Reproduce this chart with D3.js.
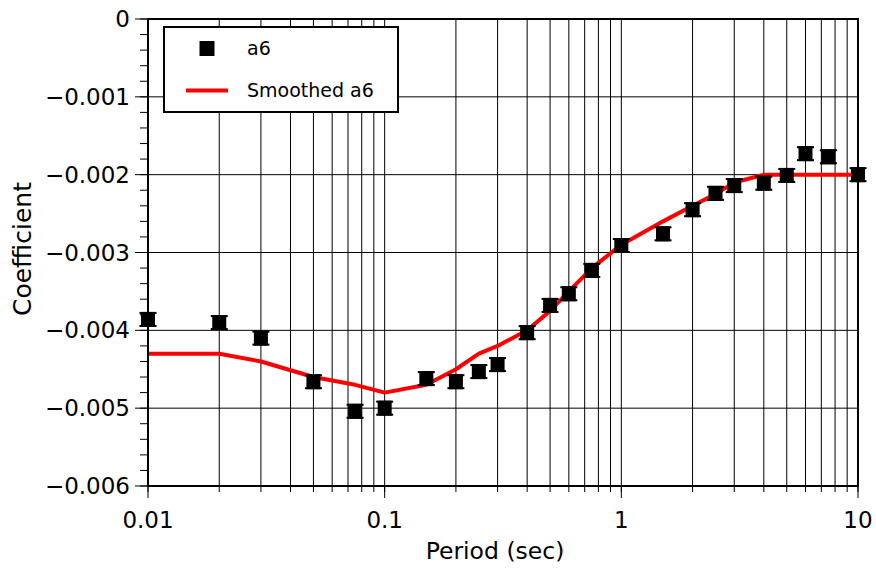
<!DOCTYPE html>
<html>
<head>
<meta charset="utf-8">
<script src="https://cdn.jsdelivr.net/npm/d3@7"></script>
<style>
  html, body { margin: 0; padding: 0; background: #fff; }
  svg { display: block; }
  text { font-family: "DejaVu Sans", sans-serif; fill: #000; }
</style>
</head>
<body>
<svg id="chart" width="876" height="571"></svg>
<script>
// Spectral periods (sec)
const periods = [0.01, 0.02, 0.03, 0.05, 0.075, 0.1, 0.15, 0.2, 0.25, 0.3, 0.4, 0.5,
                 0.6, 0.75, 1.0, 1.5, 2.0, 2.5, 3.0, 4.0, 5.0, 6.0, 7.5, 10.0];
// Regression coefficient a6 at each period
const a6 = [-0.00386, -0.00390, -0.00410, -0.00466, -0.00504, -0.00500, -0.00462, -0.00466,
            -0.00453, -0.00444, -0.00403, -0.00368, -0.00353, -0.00323, -0.00291, -0.00276,
            -0.00245, -0.00224, -0.00214, -0.00211, -0.00201, -0.00173, -0.00177, -0.00200];
// Smoothed a6
const a6Smoothed = [-0.0043, -0.0043, -0.0044, -0.0046, -0.0047, -0.0048, -0.0047, -0.0045,
                    -0.0043, -0.0042, -0.0040, -0.00375, -0.0035, -0.0032, -0.0029, -0.0026,
                    -0.0024, -0.00225, -0.0021, -0.0020, -0.0020, -0.0020, -0.0020, -0.0020];
const xTickValues = [0.01, 0.1, 1, 10];
const xTickLabels = ["0.01", "0.1", "1", "10"];
const yTickValues = [0, -0.001, -0.002, -0.003, -0.004, -0.005, -0.006];
const yTickLabels = ["0", "\u22120.001", "\u22120.002", "\u22120.003", "\u22120.004", "\u22120.005", "\u22120.006"];
const legendLabels = ["a6", "Smoothed a6"];
const xTitle = "Period (sec)";
const yTitle = "Coefficient";

const svg = d3.select("#chart");
const plotL = 148, plotR = 858, plotT = 19, plotB = 486;

const x = d3.scaleLog().domain([0.01, 10]).range([plotL, plotR]);
const y = d3.scaleLinear().domain([-0.006, 0]).range([plotB, plotT]);

// grid positions for the log axis: 1..9 x each decade
const logGrid = [];
for (let d = 0.01; d < 10; d *= 10) {
  for (let k = 1; k <= 9; k++) logGrid.push(+(k * d).toPrecision(3));
}
logGrid.push(10);
const yMinor = d3.range(0, 31).map(i => -i * 0.0002);

// grid
const grid = svg.append("g");
grid.selectAll("line.v").data(logGrid).join("line")
  .attr("x1", d => x(d)).attr("x2", d => x(d))
  .attr("y1", plotT).attr("y2", plotB)
  .attr("stroke", "#000").attr("stroke-width", 1);
grid.selectAll("line.h").data(yTickValues).join("line")
  .attr("x1", plotL).attr("x2", plotR)
  .attr("y1", d => y(d)).attr("y2", d => y(d))
  .attr("stroke", "#000").attr("stroke-width", 1);

// smoothed curve
const line = d3.line().x((d, i) => x(periods[i])).y(d => y(d));
svg.append("path").datum(a6Smoothed)
  .attr("d", line).attr("fill", "none")
  .attr("stroke", "#ff0000").attr("stroke-width", 4)
  .attr("stroke-linejoin", "round");

// square markers with short error caps
function marker(g, cx, cy) {
  g.append("rect").attr("x", cx - 7).attr("y", cy - 7.5)
    .attr("width", 14).attr("height", 15).attr("fill", "#000");
  g.append("rect").attr("x", cx - 8.5).attr("y", cy - 7.5)
    .attr("width", 17).attr("height", 2).attr("fill", "#000");
  g.append("rect").attr("x", cx - 8.5).attr("y", cy + 5.5)
    .attr("width", 17).attr("height", 2).attr("fill", "#000");
}
const pts = svg.append("g");
a6.forEach((v, i) => marker(pts, x(periods[i]), y(v)));

// frame
svg.append("rect").attr("x", plotL).attr("y", plotT)
  .attr("width", plotR - plotL).attr("height", plotB - plotT)
  .attr("fill", "none").attr("stroke", "#000").attr("stroke-width", 2);

// y axis ticks (outward)
const yAxis = svg.append("g");
yAxis.selectAll("line.minor").data(yMinor).join("line")
  .attr("x1", plotL - 8).attr("x2", plotL)
  .attr("y1", d => y(d)).attr("y2", d => y(d))
  .attr("stroke", "#000").attr("stroke-width", 1);
yAxis.selectAll("line.major").data(yTickValues).join("line")
  .attr("x1", plotL - 13).attr("x2", plotL)
  .attr("y1", d => y(d)).attr("y2", d => y(d))
  .attr("stroke", "#000").attr("stroke-width", 1);
yAxis.selectAll("text").data(yTickValues).join("text")
  .attr("x", 130).attr("y", d => y(d) + 8)
  .attr("text-anchor", "end").attr("font-size", 23)
  .text((d, i) => yTickLabels[i]);

// x axis ticks (outward)
const xAxis = svg.append("g");
xAxis.selectAll("line.minor").data(logGrid).join("line")
  .attr("x1", d => x(d)).attr("x2", d => x(d))
  .attr("y1", plotB).attr("y2", plotB + 6)
  .attr("stroke", "#000").attr("stroke-width", 1);
xAxis.selectAll("line.major").data(xTickValues).join("line")
  .attr("x1", d => x(d)).attr("x2", d => x(d))
  .attr("y1", plotB).attr("y2", plotB + 12)
  .attr("stroke", "#000").attr("stroke-width", 1);
xAxis.selectAll("text").data(xTickValues).join("text")
  .attr("x", d => x(d)).attr("y", 528)
  .attr("text-anchor", "middle").attr("font-size", 23)
  .text((d, i) => xTickLabels[i]);

// axis titles
svg.append("text").attr("x", 495).attr("y", 559)
  .attr("text-anchor", "middle").attr("font-size", 23.5).text(xTitle);
svg.append("text").attr("transform", "translate(31,249) rotate(-90)")
  .attr("text-anchor", "middle").attr("font-size", 25).text(yTitle);

// legend
const lg = svg.append("g");
lg.append("rect").attr("x", 164).attr("y", 27).attr("width", 234).attr("height", 85)
  .attr("fill", "#fff").attr("stroke", "#000").attr("stroke-width", 2);
lg.append("rect").attr("x", 199.5).attr("y", 41).attr("width", 15).attr("height", 15)
  .attr("fill", "#000");
lg.append("line").attr("x1", 186).attr("x2", 228).attr("y1", 90.5).attr("y2", 90.5)
  .attr("stroke", "#ff0000").attr("stroke-width", 4);
lg.append("text").attr("x", 247).attr("y", 55).attr("font-size", 19).text(legendLabels[0]);
lg.append("text").attr("x", 247).attr("y", 97).attr("font-size", 19).text(legendLabels[1]);
</script>
</body>
</html>
